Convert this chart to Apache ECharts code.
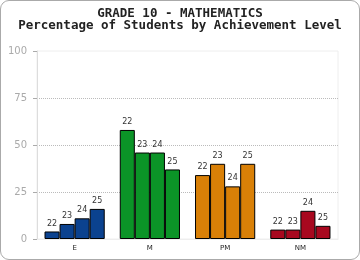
<!DOCTYPE html>
<html>
<head>
<meta charset="utf-8">
<script src="https://cdn.jsdelivr.net/npm/echarts@6/dist/echarts.min.js"></script>
<style>
  html, body { margin: 0; padding: 0; background: #fff; }
  #chart { width: 358px; height: 258px; border: 1px solid #aaa; border-radius: 9px; overflow: hidden; }
</style>
</head>
<body>
<div id="chart"></div>
<script>
const levels = ['E', 'M', 'PM', 'NM']
const levelColors = ['#0b428f', '#0b9427', '#d98007', '#a8081f']
const seriesNames = ['22', '23', '24', '25']
const values22 = [4, 58, 34, 5]
const values23 = [8, 46, 40, 5]
const values24 = [11, 46, 28, 15]
const values25 = [16, 37, 40, 7]
const yTicks = [0, 25, 50, 75, 100]

const allValues = [values22, values23, values24, values25]

const chart = echarts.init(document.getElementById('chart'))

const series = seriesNames.map((name, i) => ({
  name: name,
  type: 'bar',
  data: allValues[i],
  barGap: '0%',
  barCategoryGap: '20%',
  itemStyle: {
    color: (p) => levelColors[p.dataIndex],
    borderColor: '#000',
    borderWidth: 1,
  },
  label: {
    show: true,
    position: 'top',
    distance: 4,
    formatter: '{a}',
    color: '#333',
    fontSize: 8,
    fontFamily: 'DejaVu Sans',
  },
}))

chart.setOption({
  animation: false,
  title: {
    text: 'GRADE 10 - MATHEMATICS\nPercentage of Students by Achievement Level',
    left: 'center',
    top: 2,
    textStyle: {
      fontFamily: 'DejaVu Sans Mono',
      fontWeight: 'bold',
      fontSize: 12.5,
      lineHeight: 12,
      color: '#222',
    },
  },
  grid: {
    left: 36,
    right: 21,
    top: 50,
    bottom: 20,
    show: true,
    borderColor: '#eee',
    borderWidth: 1,
  },
  xAxis: {
    type: 'category',
    data: levels,
    axisLine: { lineStyle: { color: '#eee' } },
    axisTick: { show: false },
    axisLabel: { color: '#222', fontSize: 7, fontFamily: 'DejaVu Sans', margin: 6 },
  },
  yAxis: {
    type: 'value',
    min: yTicks[0],
    max: yTicks[yTicks.length - 1],
    interval: 25,
    axisLine: { show: true, lineStyle: { color: '#ddd' } },
    axisTick: { show: true, length: 4, lineStyle: { color: '#aaa' } },
    axisLabel: { color: '#aaa', fontSize: 10, fontFamily: 'DejaVu Sans', margin: 10 },
    splitLine: {
      show: true,
      showMinLine: false,
      showMaxLine: false,
      lineStyle: { color: '#bbb', type: [1, 1] },
    },
  },
  series: series,
})
</script>
</body>
</html>
